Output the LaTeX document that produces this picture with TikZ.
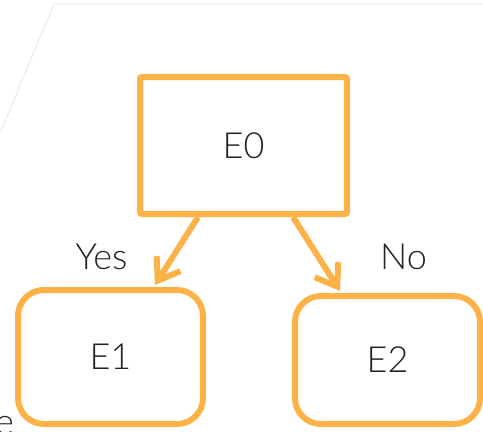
\documentclass[tikz,border=0pt]{standalone}
\usepackage{fontspec}
\setmainfont{Lato Light}
\usetikzlibrary{arrows.meta}
\definecolor{flow}{RGB}{253,178,72}
\definecolor{ink}{RGB}{34,34,34}

\begin{document}
\begin{tikzpicture}[
  x=1pt, y=-1pt,
  state/.style={draw=flow, line width=6pt, text=ink, font=\fontsize{36}{40}\selectfont, inner sep=0pt},
  root/.style={state, rounded corners=2pt, minimum width=207pt, minimum height=137pt},
  leaf/.style={state, rounded corners=26pt, minimum width=185pt},
  lbl/.style={text=ink, font=\fontsize{36}{40}\selectfont, inner sep=0pt},
  >={Straight Barb[length=20pt, width=28pt]}
]
\useasboundingbox (0,0) rectangle (483,432);

% faint outline behind the tree
\draw[black!8, line width=1pt] (0,133) -- (54,4) -- (483,4);

\node[root] (e0) at (243.5,145.5) {E0};
\node[leaf, minimum height=134pt] (e1) at (110.5,357) {E1};
\node[leaf, minimum height=128pt] (e2) at (387.5,360) {E2};

\node[lbl, anchor=base] (yes) at (101.5,269) {Yes};
\node[lbl, anchor=base] (no)  at (403.5,269) {No};
\node[lbl, anchor=base west] (cut) at (-5,434) {e};

\draw[flow, line width=6pt, ->] ([xshift=-45.5pt]e0.south) -- ([xshift=44.5pt, yshift=2pt]e1.north);
\draw[flow, line width=6pt, ->] ([xshift=49.5pt]e0.south) -- ([xshift=-47.5pt, yshift=2pt]e2.north);
\end{tikzpicture}
\end{document}
